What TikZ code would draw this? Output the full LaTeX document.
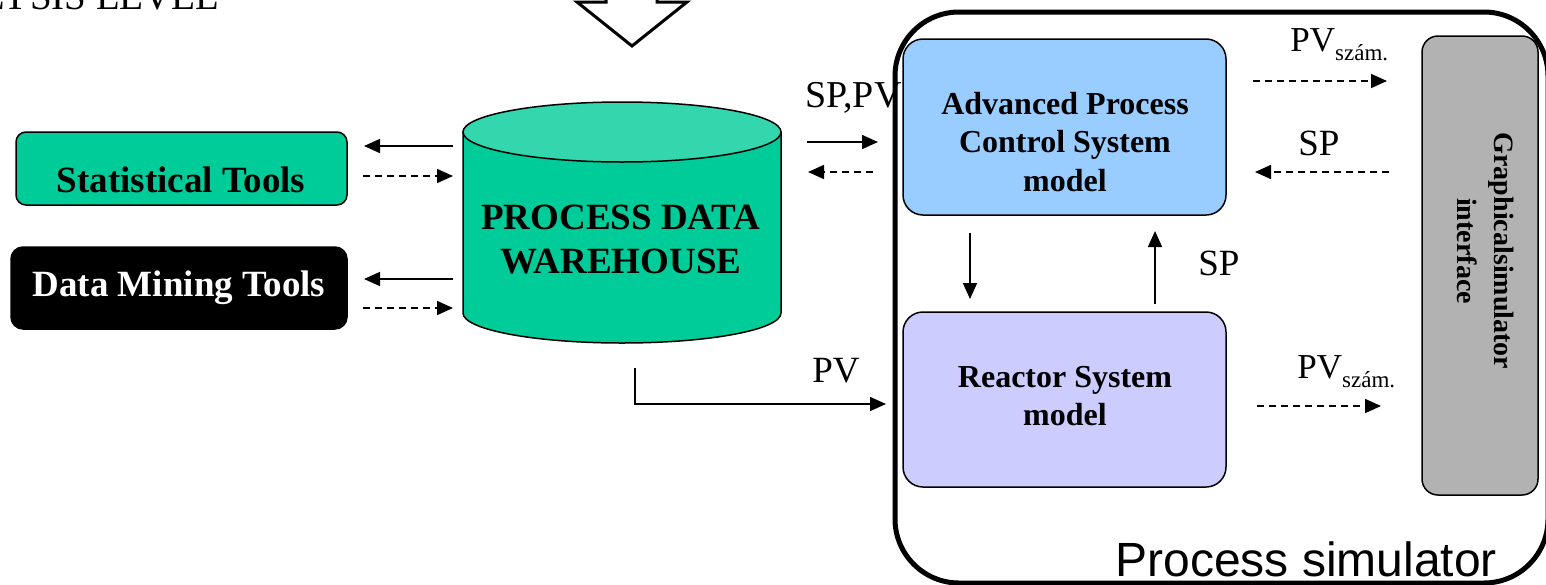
\documentclass[tikz,border=0pt]{standalone}
\usepackage{fontspec}
\setmainfont{Liberation Serif}
\newfontfamily\arialfont{Liberation Sans}
\usetikzlibrary{arrows.meta}
\definecolor{tealgreen}{HTML}{00CC99}
\definecolor{tealtop}{HTML}{33D6AD}
\definecolor{apcblue}{HTML}{99CCFF}
\definecolor{reactlilac}{HTML}{CCCCFF}
\definecolor{guigray}{HTML}{B2B2B2}
\newcommand{\fsbig}{\fontsize{18.5}{21.5}\selectfont}
\newcommand{\fsmid}{\fontsize{16}{19.25}\selectfont}
\newcommand{\fssub}{\fontsize{11.5}{13}\selectfont}
\begin{document}
\begin{tikzpicture}[x=0.5pt,y=-0.5pt,
  box/.style={draw=black, line width=0.75pt, rounded corners=#1, inner sep=0pt},
  box/.default=5pt,
  arr/.style={line width=0.8pt, -{Triangle[length=8pt,width=7pt]}},
  darr/.style={arr, dash pattern=on 3.5pt off 2.5pt},
  lbl/.style={inner sep=0pt, font=\fsbig},
]
\clip (0,0) rectangle (1546,584);
\fill[white] (0,0) rectangle (1546,584);

% top-left cut text
\node[lbl, anchor=base east, font=\fontsize{19.5}{22}\selectfont] (lvl) at (220,9) {ANALYSIS LEVEL};

% block arrow at the top
\draw[line width=1.5pt, line join=miter] (606,-60) -- (606,2) -- (577,2) -- (632,46) -- (687,2) -- (657,2) -- (657,-60);

% left boxes
\node[box=5pt, fill=tealgreen, minimum width=165.5pt, minimum height=36.5pt] (stat) at (181.5,168.5) {};
\node[lbl, font=\fsbig\bfseries] (stattxt) at (181,180) {Statistical Tools};
\node[box=6pt, fill=black, text=white, font=\fsbig\bfseries, minimum width=168pt, minimum height=41pt] (dm) at (179,288) {Data Mining Tools};

% cylinder
\draw[line width=0.75pt, fill=tealgreen] (463,132) -- (463,313) arc[start angle=180, end angle=0, x radius=159, y radius=30] -- (781,132) -- cycle;
\draw[line width=0.75pt, fill=tealtop] (622,132) ellipse [x radius=159, y radius=30];
\node[lbl, font=\fsbig\bfseries, align=center] (pdw) at (621,240) {PROCESS DATA\\[0.5pt]WAREHOUSE};

% arrows tools <-> warehouse
\coordinate (s1a) at (453,146); \coordinate (s1b) at (364,146);
\coordinate (s2a) at (363,176); \coordinate (s2b) at (453,176);
\coordinate (d1a) at (453,279); \coordinate (d1b) at (364,279);
\coordinate (d2a) at (363,308); \coordinate (d2b) at (453,308);
\draw[arr] (s1a) -- (s1b);
\draw[darr] (s2a) -- (s2b);
\draw[arr] (d1a) -- (d1b);
\draw[darr] (d2a) -- (d2b);

% SP,PV arrows
\node[lbl, anchor=base west, font=\fontsize{19}{22}\selectfont] (sppv) at (805,107) {SP,PV};
\coordinate (w1a) at (807,142); \coordinate (w1b) at (878,142);
\coordinate (w2a) at (873,172); \coordinate (w2b) at (808,172);
\draw[arr] (w1a) -- (w1b);
\draw[darr] (w2a) -- (w2b);

% PV arrow from warehouse to reactor
\node[lbl, anchor=base west] (pvl) at (812,382) {PV};
\coordinate (p1) at (635,368); \coordinate (p2) at (635,404); \coordinate (p3) at (886,404);
\draw[arr] (p1) -- (p2) -- (p3);

% process simulator frame
\draw[line width=2.5pt, rounded corners=32pt] (895,12) rectangle (1548,583);
\node[inner sep=0pt, anchor=base west, font=\arialfont\fontsize{24}{28}\selectfont] (pslbl) at (1115,576) {Process simulator};

% APC and reactor
\node[box=10pt, fill=apcblue, minimum width=161.5pt, minimum height=88pt] (apc) at (1064.5,127) {};
\node[lbl, font=\fsmid\bfseries, align=center] (apctxt) at (1065,142) {Advanced Process\\Control System\\model};
\node[box=10pt, fill=reactlilac, minimum width=161.5pt, minimum height=87.5pt] (rea) at (1064.5,399.5) {};
\node[lbl, font=\fsmid\bfseries, align=center] (reatxt) at (1065,396) {Reactor System\\model};

\coordinate (v1a) at (970,233); \coordinate (v1b) at (970,299);
\coordinate (v2a) at (1155,304); \coordinate (v2b) at (1155,231);
\draw[arr] (v1a) -- (v1b);
\draw[arr] (v2a) -- (v2b);
\node[lbl, anchor=base west] (spmid) at (1198,275) {SP};

% graphical interface
\node[box=8pt, fill=guigray, minimum width=58pt, minimum height=229.5pt] (gui) at (1480,265.5) {};
\node[inner sep=0pt, font=\fontsize{14}{18.5}\selectfont\bfseries, align=center, rotate=-90] (guitxt) at (1486,251) {Graphicalsimulator\\interface};

% right side arrows
\node[inner sep=0pt, anchor=base west, font=\fontsize{17.5}{20}\selectfont] (pvs1) at (1290,51) {PV\raisebox{-4.5pt}{\fssub szám.}};
\coordinate (r1a) at (1253,81); \coordinate (r1b) at (1387,81);
\draw[darr] (r1a) -- (r1b);
\node[lbl, anchor=base west] (spr) at (1298,155) {SP};
\coordinate (r2a) at (1389,172); \coordinate (r2b) at (1255,172);
\draw[darr] (r2a) -- (r2b);
\node[inner sep=0pt, anchor=base west, font=\fontsize{17.5}{20}\selectfont] (pvs2) at (1297,378) {PV\raisebox{-4.5pt}{\fssub szám.}};
\coordinate (r3a) at (1257,406); \coordinate (r3b) at (1381,406);
\draw[darr] (r3a) -- (r3b);
\end{tikzpicture}
\end{document}
